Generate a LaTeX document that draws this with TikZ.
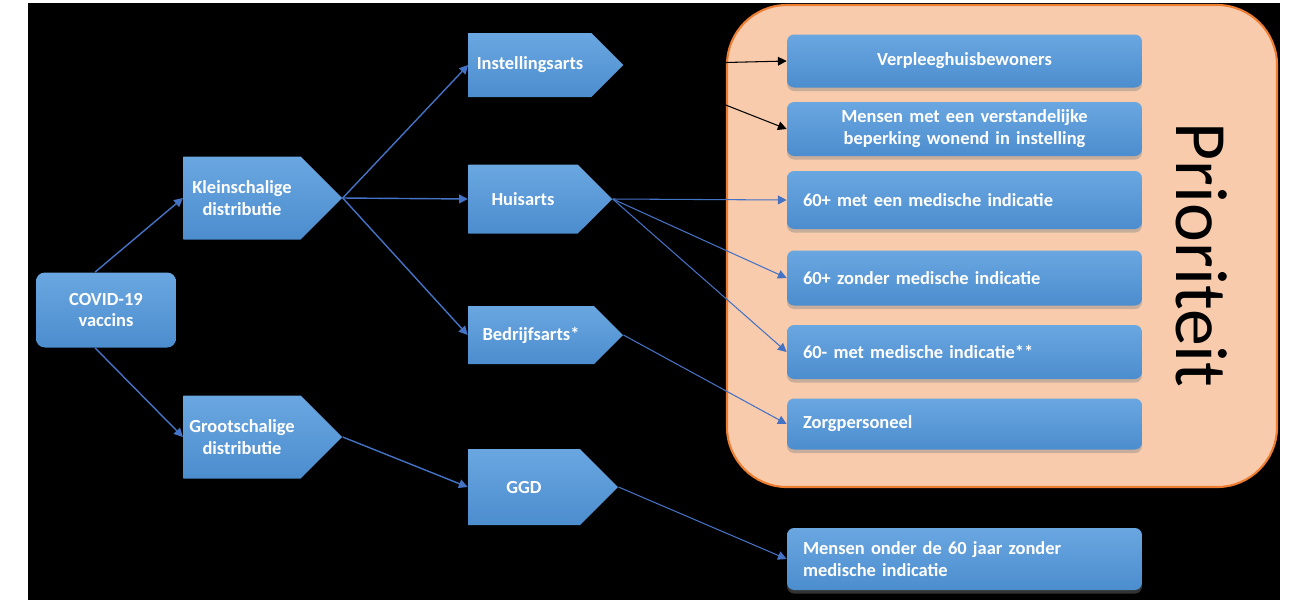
\documentclass[tikz,border=0pt]{standalone}
\usepackage{fontspec}
\setmainfont{Carlito}
\usetikzlibrary{arrows.meta,shapes.symbols,shadows}
\definecolor{boxtop}{RGB}{106,167,225}
\definecolor{boxbot}{RGB}{76,141,206}
\definecolor{lijn}{RGB}{68,114,196}
\definecolor{prio}{RGB}{248,203,173}
\definecolor{prioedge}{RGB}{237,125,49}
\tikzset{>={Triangle[width=5pt,length=5pt]}}
\tikzset{
  txt/.style={text=white,font=\fontsize{10.5}{12.5}\selectfont\bfseries},
  pijl/.style={signal,signal to=east,signal pointer angle=90,
    top color=boxtop,bottom color=boxbot,draw=none,txt,align=center,inner sep=0pt},
  doel/.style={rectangle,rounded corners=4pt,top color=boxtop,bottom color=boxbot,
    txt,minimum width=7.1cm,text width=6.46cm,inner xsep=0.32cm,
    drop shadow={shadow xshift=0pt,shadow yshift=-2pt,opacity=0.4}},
  verbind/.style={->,draw=lijn,line width=0.8pt},
  dun/.style={->,draw=lijn,line width=0.6pt}
}
\begin{document}
\begin{tikzpicture}[x=0.02cm,y=-0.02cm]
\useasboundingbox (0,0) rectangle (1295,600);
\fill[white] (0,0) rectangle (1295,600);
\fill[black] (28,3) rectangle (1280,600);

% prioriteit
\draw[fill=prio,draw=prioedge,line width=1.2pt,rounded corners=1.2cm]
  (727,5) rectangle (1277,487);
\node[rotate=-90,font=\fontsize{42}{50}\selectfont] (prioriteit) at (1202,255) {Prioriteit};

% links
\node[rectangle,rounded corners=5pt,top color=boxtop,bottom color=boxbot,txt,align=center,
  minimum width=2.8cm,minimum height=1.5cm] (covid) at (106,310) {COVID-19\\vaccins};
\node[pijl,minimum width=3.18cm,minimum height=1.66cm] (klein) at (242,198) {Kleinschalige\\distributie};
\node[pijl,minimum width=3.18cm,minimum height=1.66cm] (groot) at (242,437) {Grootschalige\\distributie};

% midden
\node[pijl,minimum width=3.1cm,minimum height=1.28cm] (inst) at (530,65) {Instellingsarts};
\node[pijl,minimum width=2.88cm,minimum height=1.38cm] (huis) at (523,199) {Huisarts};
\node[pijl,minimum width=3.1cm,minimum height=1.16cm] (bedr) at (531,335) {Bedrijfsarts*};
\node[pijl,minimum width=3.0cm,minimum height=1.52cm] (ggd) at (524,487) {GGD};

% rechts
\node[doel,align=center,minimum height=1.06cm] (verpl) at (964.5,61) {Verpleeghuisbewoners};
\node[doel,align=center,minimum height=1.08cm] (verst) at (964.5,129)
  {Mensen met een verstandelijke\\beperking wonend in instelling};
\node[doel,align=left,minimum height=1.16cm] (med) at (964.5,200) {60+ met een medische indicatie};
\node[doel,align=left,minimum height=1.1cm] (zonder) at (964.5,278) {60+ zonder medische indicatie};
\node[doel,align=left,minimum height=1.08cm] (min) at (964.5,352) {60- met medische indicatie**};
\node[doel,align=left,minimum height=1.02cm] (zorg) at (964.5,424) {Zorgpersoneel};
\node[doel,align=left,minimum height=1.24cm] (onder) at (964.5,559)
  {Mensen onder de 60 jaar zonder\\medische indicatie};

\draw[verbind] ([xshift=-0.22cm]covid.north) -- (klein.west);
\draw[verbind] ([xshift=-0.22cm]covid.south) -- (groot.west);
\draw[verbind] (klein.east) -- (inst.west);
\draw[verbind] (klein.east) -- (huis.west);
\draw[verbind] (klein.east) -- (bedr.west);
\draw[verbind] (groot.east) -- (ggd.west);
\draw[->,line width=0.6pt] (inst.east) -- (verpl.west);
\draw[->,line width=0.6pt] (inst.east) -- (verst.west);
\draw[dun] (huis.east) -- (med.west);
\draw[dun] (huis.east) -- (zonder.west);
\draw[dun] (huis.east) -- (min.west);
\draw[dun] (bedr.east) -- (zorg.west);
\draw[dun] (ggd.east) -- (onder.west);
\end{tikzpicture}
\end{document}
